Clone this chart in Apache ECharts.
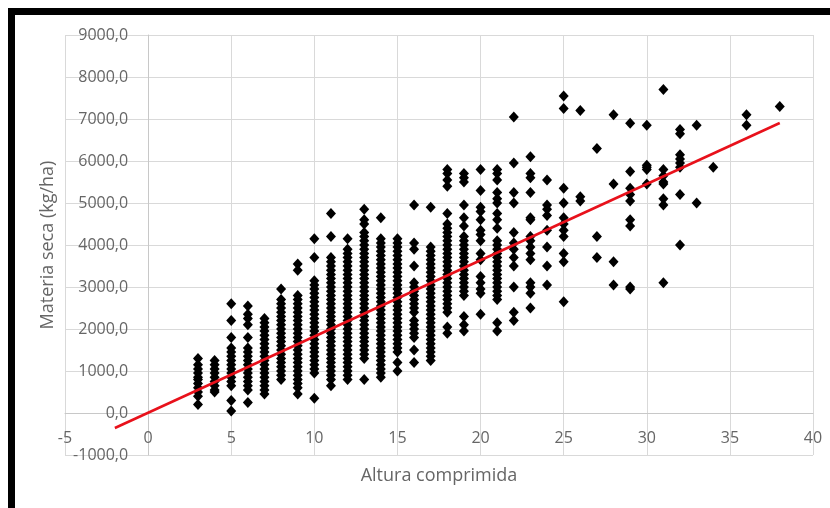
<!DOCTYPE html>
<html>
<head>
<meta charset="utf-8">
<script src="https://cdn.jsdelivr.net/npm/echarts@6/dist/echarts.min.js"></script>
<style>html,body{margin:0;padding:0;background:#fff;}#c{width:830px;height:508px;}</style>
</head>
<body>
<div id="c"></div>
<script>
// Columns of observations: Altura comprimida (x) -> Materia seca (kg/ha) values
const y3  = [1300, 1150, 1050, 950, 850, 800, 700, 600, 500, 400, 200];
const y4  = [1250, 1150, 1050, 950, 850, 750, 650, 550, 500];
const y5  = [2600, 2200, 1800, 1550, 1450, 1350, 1250, 1150, 1050, 950, 850, 750, 650, 300, 50];
const y6  = [2550, 2350, 2250, 2100, 1800, 1550, 1450, 1350, 1250, 1150, 1050, 950, 850, 750, 650, 550, 250];
const y7  = [2250, 2150, 2050, 1950, 1850, 1750, 1650, 1550, 1450, 1350, 1250, 1150, 1050, 950, 850, 750, 650, 550, 450];
const y8  = [2950, 2700, 2600, 2500, 2400, 2300, 2200, 2100, 2000, 1900, 1800, 1700, 1600, 1500, 1400, 1300, 1200, 1100, 1000, 900, 800];
const y9  = [3550, 3400, 2800, 2700, 2600, 2500, 2400, 2300, 2200, 2100, 2000, 1900, 1800, 1700, 1600, 1500, 1400, 1300, 1200, 1100, 1000, 900, 800, 700, 600, 450];
const y10 = [4150, 3700, 3150, 3050, 2950, 2850, 2750, 2650, 2550, 2450, 2350, 2250, 2150, 2050, 1950, 1850, 1750, 1650, 1550, 1450, 1350, 1250, 1150, 1050, 950, 350];
const y11 = [4750, 4200, 3700, 3600, 3500, 3400, 3300, 3200, 3100, 3000, 2900, 2800, 2700, 2600, 2500, 2400, 2300, 2200, 2100, 2000, 1900, 1800, 1700, 1600, 1500, 1400, 1300, 1200, 1100, 1000, 900, 800, 650];
const y12 = [4150, 3900, 3800, 3700, 3600, 3500, 3400, 3300, 3200, 3100, 3000, 2900, 2800, 2700, 2600, 2500, 2400, 2300, 2200, 2100, 2000, 1900, 1800, 1700, 1600, 1500, 1400, 1300, 1200, 1100, 1000, 900, 800];
const y13 = [4850, 4600, 4500, 4300, 4200, 4100, 4000, 3900, 3800, 3700, 3600, 3500, 3400, 3300, 3200, 3100, 3000, 2900, 2800, 2700, 2600, 2500, 2400, 2300, 2200, 2100, 2000, 1900, 1800, 1700, 1600, 1500, 1400, 1300, 800];
const y14 = [4650, 4150, 4050, 3950, 3850, 3750, 3650, 3550, 3450, 3350, 3250, 3150, 3050, 2950, 2850, 2750, 2650, 2550, 2450, 2350, 2250, 2150, 2050, 1950, 1850, 1750, 1650, 1550, 1450, 1350, 1250, 1150, 1050, 950, 850];
const y15 = [4150, 4050, 3950, 3850, 3750, 3650, 3550, 3450, 3350, 3250, 3150, 3050, 2950, 2850, 2750, 2650, 2550, 2450, 2350, 2250, 2150, 2050, 1950, 1850, 1750, 1650, 1550, 1450, 1200, 1000];
const y16 = [4950, 4050, 3900, 3500, 3100, 3000, 2900, 2800, 2700, 2600, 2500, 2400, 2200, 2100, 2000, 1900, 1800, 1500, 1200];
const y17 = [4900, 3950, 3850, 3750, 3650, 3550, 3450, 3350, 3250, 3150, 3050, 2950, 2850, 2750, 2650, 2550, 2450, 2350, 2250, 2150, 2050, 1950, 1850, 1750, 1650, 1550, 1450, 1350, 1250];
const y18 = [5800, 5700, 5550, 5400, 4750, 4500, 4400, 4300, 4200, 4100, 4000, 3900, 3800, 3700, 3600, 3500, 3400, 3300, 3200, 3100, 3000, 2900, 2800, 2700, 2600, 2500, 2400, 2050, 1900];
const y19 = [5700, 5600, 5500, 4950, 4650, 4450, 4200, 4100, 4000, 3900, 3800, 3700, 3600, 3500, 3400, 3300, 3200, 3100, 3000, 2900, 2800, 2300, 2100, 1950];
const y20 = [5800, 5300, 4900, 4800, 4600, 4350, 4250, 4100, 3800, 3650, 3250, 3100, 2950, 2850, 2350];
const y21 = [5800, 5700, 5550, 5250, 5100, 5000, 4750, 4600, 4400, 4100, 4000, 3900, 3800, 3700, 3600, 3500, 3400, 3300, 3200, 3100, 3000, 2900, 2800, 2700, 2150, 1950];
const y22 = [7050, 5950, 5250, 5000, 4300, 4050, 3900, 3700, 3500, 3000, 2400, 2200];
const y23 = [6100, 5700, 5600, 5250, 4650, 4600, 4200, 4100, 3950, 3800, 3650, 3100, 3000, 2850, 2500];
const y24 = [5550, 4950, 4850, 4700, 4350, 3950, 3500, 3050];
const y25 = [7550, 7250, 5350, 5000, 4650, 4500, 4350, 4200, 3800, 3600, 2650];
const y26 = [7200, 5150, 5050];
const y27 = [6300, 4200, 3700];
const y28 = [7100, 5450, 3600, 3050];
const y29 = [6900, 5750, 5350, 5200, 5050, 4600, 4450, 3000, 2950];
const y30 = [6850, 5900, 5850, 5800, 5450];
const y31 = [7700, 5800, 5650, 5500, 5450, 5100, 4950, 3100];
const y32 = [6750, 6650, 6150, 6050, 5950, 5850, 5200, 4000];
const y33 = [6850, 5000];
const y34 = [5850];
const y36 = [7100, 6850];
const y38 = [7300];

const columnX = [3, 4, 5, 6, 7, 8, 9, 10, 11, 12, 13, 14, 15, 16, 17, 18, 19, 20, 21, 22, 23, 24, 25, 26, 27, 28, 29, 30, 31, 32, 33, 34, 36, 38];
const columnY = [y3, y4, y5, y6, y7, y8, y9, y10, y11, y12, y13, y14, y15, y16, y17, y18, y19, y20, y21, y22, y23, y24, y25, y26, y27, y28, y29, y30, y31, y32, y33, y34, y36, y38];

// Linear trendline end points
const trendX = [-2, 38];
const trendY = [-357, 6905];

// Axis ranges / tick steps
const xMin = -5, xMax = 40, xStep = 5;
const yMin = -1000, yMax = 9000, yStep = 1000;

const points = [];
columnX.forEach((x, i) => columnY[i].forEach(v => points.push([x, v])));
const trend = trendX.map((x, i) => [x, trendY[i]]);

// Layout
const W = 830, H = 508;
const G = {left: 65, right: 17, top: 35, bottom: 53};
const gridW = W - G.left - G.right, gridH = H - G.top - G.bottom;
// place axes so they cross at zero (as in the original)
const yAxisOffset = -gridW * (0 - xMin) / (xMax - xMin);
const xAxisOffset = -gridH * (0 - yMin) / (yMax - yMin);

const chart = echarts.init(document.getElementById('c'), null, {renderer: 'canvas', width: W, height: H});
const labelColor = '#666666';
const font = '"Open Sans", "Liberation Sans", sans-serif';

chart.setOption({
  animation: false,
  backgroundColor: '#ffffff',
  grid: Object.assign({containLabel: false, outerBoundsMode: 'none'}, G),
  xAxis: {
    type: 'value', min: xMin, max: xMax, interval: xStep,
    position: 'bottom', offset: xAxisOffset,
    name: 'Altura comprimida', nameLocation: 'middle', nameGap: 54,
    nameTextStyle: {color: labelColor, fontSize: 18, fontFamily: font},
    axisLine: {onZero: false, lineStyle: {color: '#c8c8c8', width: 1}},
    axisTick: {show: false},
    axisLabel: {color: labelColor, fontSize: 16, fontFamily: font, margin: 17, showMinLabel: true, showMaxLabel: true},
    splitLine: {show: true, lineStyle: {color: '#d9d9d9', width: 1}}
  },
  yAxis: {
    type: 'value', min: yMin, max: yMax, interval: yStep,
    position: 'left', offset: yAxisOffset,
    name: 'Materia seca (kg/ha)', nameLocation: 'middle', nameGap: 91,
    nameTextStyle: {color: labelColor, fontSize: 18, fontFamily: font},
    axisLine: {onZero: false, lineStyle: {color: '#c8c8c8', width: 1}},
    axisTick: {show: false},
    axisLabel: {color: labelColor, fontSize: 16, fontFamily: font, margin: 20,
      showMinLabel: true, showMaxLabel: true,
      formatter: v => v.toFixed(1).replace('.', ',')},
    splitLine: {show: true, lineStyle: {color: '#d9d9d9', width: 1}}
  },
  series: [
    {
      type: 'scatter', data: points, symbol: 'diamond', symbolSize: [10, 11],
      itemStyle: {color: '#000000', opacity: 1}, z: 2
    },
    {
      type: 'line', data: trend, showSymbol: false, symbol: 'none',
      lineStyle: {color: '#e8111b', width: 2.5}, z: 3
    }
  ],
  graphic: [
    {type: 'rect', shape: {x: 8, y: 8, width: 822, height: 7}, style: {fill: '#000'}, z: 100},
    {type: 'rect', shape: {x: 8, y: 8, width: 7, height: 500}, style: {fill: '#000'}, z: 100}
  ]
});
</script>
</body>
</html>
